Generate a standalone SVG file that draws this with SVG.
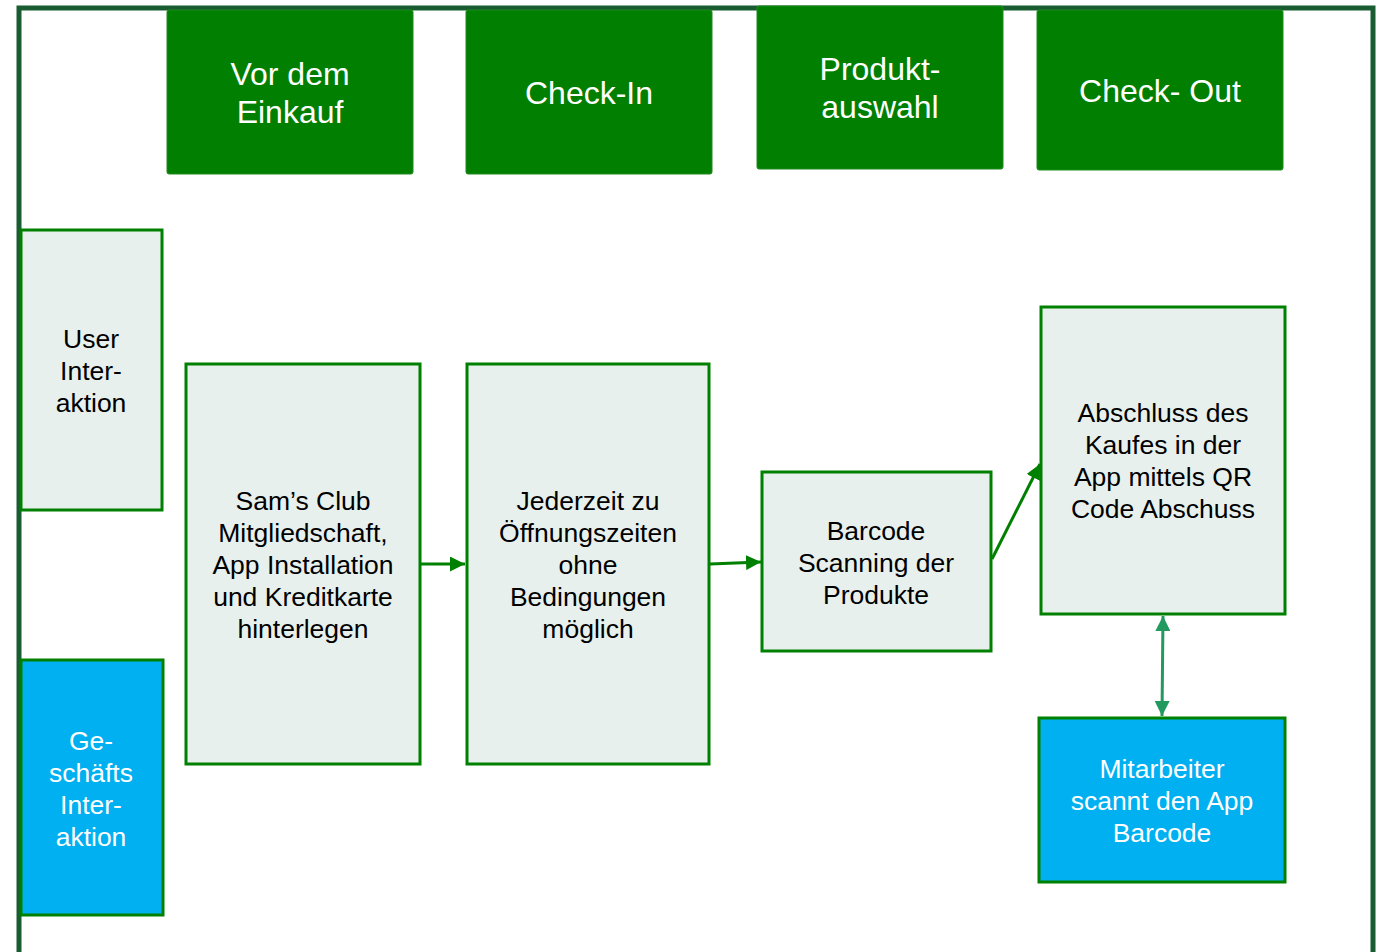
<svg xmlns="http://www.w3.org/2000/svg" width="1378" height="952" viewBox="0 0 1378 952">
<style>
.hdr{fill:#007f00;stroke:#1f8a1f;stroke-width:1}
.proc{fill:#e8f0ed;stroke:#008000;stroke-width:3}
.blue{fill:#00b0f0;stroke:#008000;stroke-width:3}
.th{font-family:"Liberation Sans",Arial,sans-serif;font-size:32px;fill:#fff;text-anchor:middle}
.tb{font-family:"Liberation Sans",Arial,sans-serif;font-size:26.5px;fill:#000;text-anchor:middle}
.tw{font-family:"Liberation Sans",Arial,sans-serif;font-size:26.5px;fill:#fff;text-anchor:middle}
.con{stroke:#008000;stroke-width:3;fill:none}
.con2{stroke:#22995e;stroke-width:3;fill:none}
</style>
<defs>
<marker id="ah" viewBox="0 0 10 10" refX="10" refY="5" markerWidth="5" markerHeight="5" orient="auto"><path d="M0,0 L10,5 L0,10 z" fill="#008000"/></marker>
<marker id="ah2" viewBox="0 0 10 10" refX="10" refY="5" markerWidth="5" markerHeight="5" orient="auto-start-reverse"><path d="M0,0 L10,5 L0,10 z" fill="#22995e"/></marker>
</defs>
<rect width="1378" height="952" fill="#fff"/>
<path d="M19,960 L19,8 L1373,8 L1373,960" fill="none" stroke="#1a5c32" stroke-width="5"/>
<g id="h1"><rect class="hdr" x="167" y="10" width="246" height="164" rx="2"/><text class="th" x="290" y="85">Vor dem</text><text class="th" x="290" y="123">Einkauf</text></g>
<g id="h2"><rect class="hdr" x="466" y="10" width="246" height="164" rx="2"/><text class="th" x="589" y="104">Check-In</text></g>
<g id="h3"><rect class="hdr" x="757" y="6" width="246" height="163" rx="2"/><text class="th" x="880" y="80">Produkt-</text><text class="th" x="880" y="118">auswahl</text></g>
<g id="h4"><rect class="hdr" x="1037" y="10" width="246" height="160" rx="2"/><text class="th" x="1160" y="102">Check- Out</text></g>
<g id="lane1"><rect class="proc" x="21" y="230" width="141" height="280"/><text class="tb" x="91" y="348">User</text><text class="tb" x="91" y="380">Inter-</text><text class="tb" x="91" y="412">aktion</text></g>
<g id="lane2"><rect class="blue" x="21" y="660" width="142" height="255"/><text class="tw" x="91" y="750">Ge-</text><text class="tw" x="91" y="782">schäfts</text><text class="tw" x="91" y="814">Inter-</text><text class="tw" x="91" y="846">aktion</text></g>
<g id="n1"><rect class="proc" x="186" y="364" width="234" height="400"/><text class="tb" x="303" y="510">Sam’s Club</text><text class="tb" x="303" y="542">Mitgliedschaft,</text><text class="tb" x="303" y="574">App Installation</text><text class="tb" x="303" y="606">und Kreditkarte</text><text class="tb" x="303" y="638">hinterlegen</text></g>
<g id="n2"><rect class="proc" x="467" y="364" width="242" height="400"/><text class="tb" x="588" y="510">Jederzeit zu</text><text class="tb" x="588" y="542">Öffnungszeiten</text><text class="tb" x="588" y="574">ohne</text><text class="tb" x="588" y="606">Bedingungen</text><text class="tb" x="588" y="638">möglich</text></g>
<g id="n3"><rect class="proc" x="762" y="472" width="229" height="179"/><text class="tb" x="876" y="540">Barcode</text><text class="tb" x="876" y="572">Scanning der</text><text class="tb" x="876" y="604">Produkte</text></g>
<g id="n4"><rect class="proc" x="1041" y="307" width="244" height="307"/><text class="tb" x="1163" y="422">Abschluss des</text><text class="tb" x="1163" y="454">Kaufes in der</text><text class="tb" x="1163" y="486">App mittels QR</text><text class="tb" x="1163" y="518">Code Abschuss</text></g>
<g id="n5"><rect class="blue" x="1039" y="718" width="246" height="164"/><text class="tw" x="1162" y="778">Mitarbeiter</text><text class="tw" x="1162" y="810">scannt den App</text><text class="tw" x="1162" y="842">Barcode</text></g>
<g id="connectors">
<line class="con" x1="421" y1="564" x2="465" y2="564" marker-end="url(#ah)"/>
<line class="con" x1="710" y1="564" x2="761" y2="562" marker-end="url(#ah)"/>
<line class="con" x1="992" y1="559" x2="1040" y2="464" marker-end="url(#ah)"/>
<line class="con2" x1="1163" y1="616" x2="1162" y2="716" marker-start="url(#ah2)" marker-end="url(#ah2)"/>
</g>
</svg>
